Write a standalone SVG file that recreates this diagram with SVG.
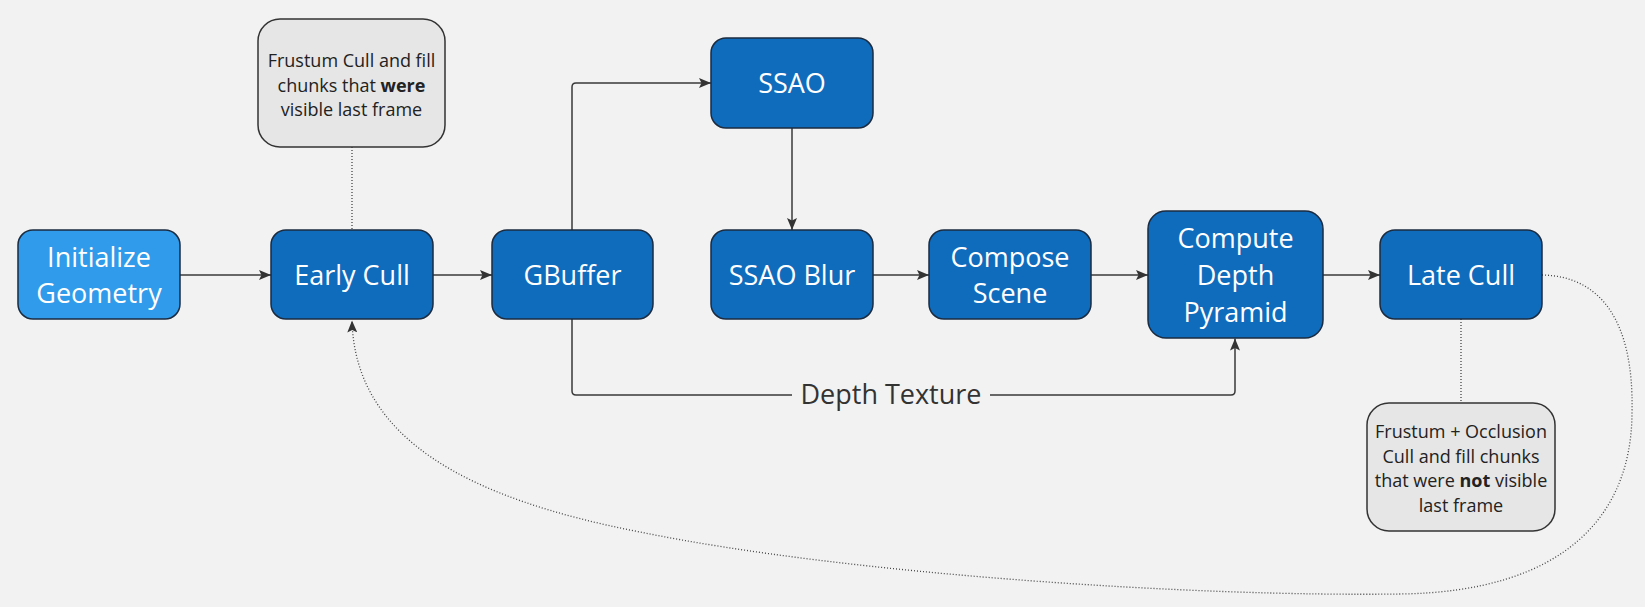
<svg xmlns="http://www.w3.org/2000/svg" width="1645" height="607" viewBox="0 0 1645 607">
<style>
.node{fill:#0f6cbd;stroke:#1b2b40;stroke-width:1.5}
.light{fill:#2f9bea}
.note{fill:#e6e6e6;stroke:#333;stroke-width:1.5}
.nt{font-family:"Open Sans","Noto Sans",sans-serif;font-size:27px;fill:#ffffff;text-anchor:middle}
.at{font-family:"Open Sans","Noto Sans",sans-serif;font-size:18px;fill:#222;text-anchor:middle}
.lbl{font-family:"Open Sans","Noto Sans",sans-serif;font-size:27px;fill:#333;text-anchor:middle}
.edge{fill:none;stroke:#3a3a3a;stroke-width:1.5}
.dot{fill:none;stroke:#444;stroke-width:1.3;stroke-dasharray:1 2}
</style>
<defs>
<marker id="arr" viewBox="0 0 12 10" refX="12" refY="5" markerWidth="12" markerHeight="10" markerUnits="userSpaceOnUse" orient="auto">
<path d="M0,0 L12,5 L0,10 L2.5,5 z" fill="#333"/>
</marker>
</defs>
<rect width="1645" height="607" fill="#f2f2f2"/>
<g id="connectors">
<path class="edge" d="M180,275 H271" marker-end="url(#arr)"/>
<path class="edge" d="M433,275 H492" marker-end="url(#arr)"/>
<path class="edge" d="M572,230 V87 Q572,83 576,83 H711" marker-end="url(#arr)"/>
<path class="edge" d="M792,128 V230" marker-end="url(#arr)"/>
<path class="edge" d="M873,275 H929" marker-end="url(#arr)"/>
<path class="edge" d="M1091,275 H1148" marker-end="url(#arr)"/>
<path class="edge" d="M1323,275 H1380" marker-end="url(#arr)"/>
<path class="edge" d="M572,319 V391 Q572,395 576,395 H792"/>
<path class="edge" d="M990,395 H1231 Q1235,395 1235,391 V338.5" marker-end="url(#arr)"/>
<text class="lbl" x="891" y="404">Depth Texture</text>
<path class="dot" d="M352,147 V230"/>
<path class="dot" d="M1461,319 V403"/>
<path class="dot" d="M1542,275 C1600,276 1634,320 1632,412 C1632,515 1565,592 1400,594 C1200,597 850,575 640,532 C470,499 355,440 352,320.5" marker-end="url(#arr)"/>
</g>
<g id="initialize-geometry">
<rect class="node light" x="18" y="230" width="162" height="89" rx="15"/>
<text class="nt" x="99" y="266.5">Initialize</text>
<text class="nt" x="99" y="303">Geometry</text>
</g>
<g id="early-cull">
<rect class="node" x="271" y="230" width="162" height="89" rx="15"/>
<text class="nt" x="352" y="285">Early Cull</text>
</g>
<g id="gbuffer">
<rect class="node" x="492" y="230" width="161" height="89" rx="15"/>
<text class="nt" x="572.5" y="285">GBuffer</text>
</g>
<g id="ssao">
<rect class="node" x="711" y="38" width="162" height="90" rx="15"/>
<text class="nt" x="792" y="93">SSAO</text>
</g>
<g id="ssao-blur">
<rect class="node" x="711" y="230" width="162" height="89" rx="15"/>
<text class="nt" x="792" y="285">SSAO Blur</text>
</g>
<g id="compose-scene">
<rect class="node" x="929" y="230" width="162" height="89" rx="15"/>
<text class="nt" x="1010" y="266.5">Compose</text>
<text class="nt" x="1010" y="303">Scene</text>
</g>
<g id="compute-depth-pyramid">
<rect class="node" x="1148" y="211" width="175" height="127" rx="18"/>
<text class="nt" x="1235.5" y="248">Compute</text>
<text class="nt" x="1235.5" y="285">Depth</text>
<text class="nt" x="1235.5" y="322">Pyramid</text>
</g>
<g id="late-cull">
<rect class="node" x="1380" y="230" width="162" height="89" rx="15"/>
<text class="nt" x="1461" y="285">Late Cull</text>
</g>
<g id="note-early">
<rect class="note" x="258" y="19" width="187" height="128" rx="22"/>
<text class="at" x="351.5" y="67">Frustum Cull and fill</text>
<text class="at" x="351.5" y="91.5">chunks that <tspan font-weight="bold">were</tspan></text>
<text class="at" x="351.5" y="116">visible last frame</text>
</g>
<g id="note-late">
<rect class="note" x="1367" y="403" width="188" height="128" rx="22"/>
<text class="at" x="1461" y="438">Frustum + Occlusion</text>
<text class="at" x="1461" y="462.5">Cull and fill chunks</text>
<text class="at" x="1461" y="487">that were <tspan font-weight="bold">not</tspan> visible</text>
<text class="at" x="1461" y="511.5">last frame</text>
</g>
</svg>
